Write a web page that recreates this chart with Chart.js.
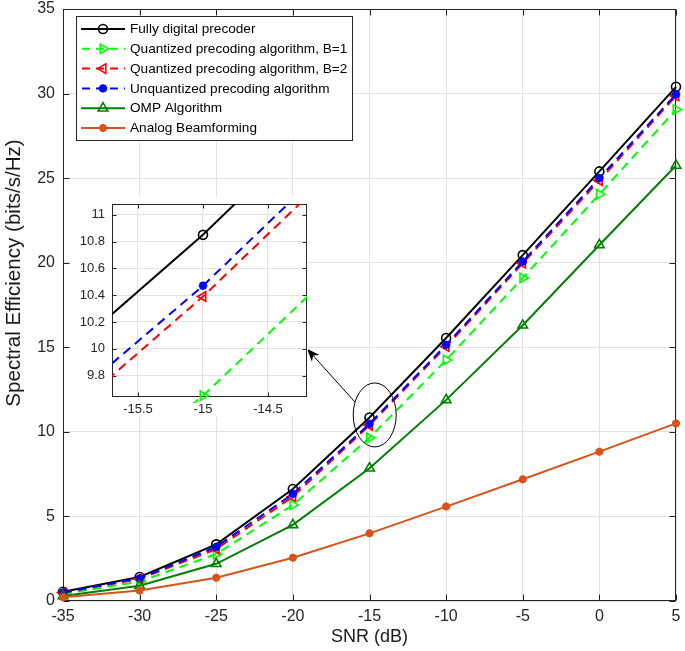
<!DOCTYPE html>
<html><head><meta charset="utf-8">
<script src="https://cdn.jsdelivr.net/npm/chart.js@4.4.0/dist/chart.umd.min.js"></script>
<style>
html,body{margin:0;padding:0;background:#fff;}
#wrap{position:relative;width:685px;height:651px;overflow:hidden;}
#main{position:absolute;left:0;top:0;}
#insetBox{position:absolute;left:70px;top:196px;width:238px;height:221px;background:#fff;}
#inset{position:absolute;left:0;top:0;}
</style></head><body>
<div id="wrap">
  <canvas id="main" width="685" height="651"></canvas>
  <div id="insetBox"><canvas id="inset" width="238" height="221"></canvas></div>
</div>
<script>
// ---------- data ----------
const snr = [-35, -30, -25, -20, -15, -10, -5, 0, 5];
const fullyDigital = [0.55, 1.42, 3.35, 6.62, 10.85, 15.55, 20.45, 25.40, 30.40];
const quantB1      = [0.42, 1.15, 2.78, 5.68, 9.65, 14.25, 19.10, 24.05, 29.05];
const quantB2      = [0.50, 1.30, 3.07, 6.17, 10.39, 15.04, 19.97, 24.86, 29.86];
const unquantized  = [0.50, 1.34, 3.20, 6.33, 10.47, 15.14, 20.07, 25.00, 29.96];
const ompAlg       = [0.30, 0.90, 2.20, 4.50, 7.85, 11.89, 16.30, 21.05, 25.75];
const analogBF     = [0.22, 0.62, 1.38, 2.56, 4.00, 5.58, 7.20, 8.83, 10.50];

const seriesNames = [
  'Fully digital precoder',
  'Quantized precoding algorithm, B=1',
  'Quantized precoding algorithm, B=2',
  'Unquantized precoding algorithm',
  'OMP Algorithm',
  'Analog Beamforming'
];
const seriesValues = [fullyDigital, quantB1, quantB2, unquantized, ompAlg, analogBF];

const xTickValues = [-35, -30, -25, -20, -15, -10, -5, 0, 5];
const yTickValues = [0, 5, 10, 15, 20, 25, 30, 35];
const insetXTicks = [-15.5, -15, -14.5];
const insetYTicks = [9.8, 10, 10.2, 10.4, 10.6, 10.8, 11];
const insetXRange = [-15.7, -14.2];
const insetYRange = [9.64, 11.08];
const zoomEllipseCenter = [-14.66, 11.0];
const arrowTargetY = 10;

// ---------- styles ----------
const styles = [
  {color:'#000000', dash:[], pointStyle:'circle', rotation:0, radius:4.5, fill:false},
  {color:'#00ff00', dash:[9,6], pointStyle:'triangle', rotation:90, radius:5.5, fill:false},
  {color:'#ff0000', dash:[9,6], pointStyle:'triangle', rotation:-90, radius:5.5, fill:false},
  {color:'#0000ff', dash:[9,6], pointStyle:'star', rotation:0, radius:4.2, fill:true},
  {color:'#008000', dash:[], pointStyle:'triangle', rotation:0, radius:5.5, fill:false},
  {color:'#d95319', dash:[], pointStyle:'star', rotation:0, radius:4.0, fill:true}
];
const FONT = '"Liberation Sans", Arial, Helvetica, sans-serif';
Chart.defaults.font.family = FONT;
Chart.defaults.color = '#262626';

function makeDatasets(clip){
  return seriesValues.map((vals, i) => {
    const s = styles[i];
    return {
      label: seriesNames[i],
      data: snr.map((x, k) => ({x: x, y: vals[k]})),
      borderColor: s.color,
      backgroundColor: s.fill ? s.color : 'rgba(0,0,0,0)',
      borderWidth: 2,
      borderDash: s.dash,
      pointStyle: s.pointStyle,
      pointRotation: s.rotation,
      pointRadius: s.radius,
      pointBorderWidth: s.fill ? 2.6 : 1.6,
      pointBorderColor: s.color,
      pointBackgroundColor: s.fill ? s.color : 'rgba(0,0,0,0)',
      tension: 0,
      fill: false,
      order: seriesValues.length - i,
      clip: clip
    };
  });
}

function zeroPad(sc){ sc.paddingTop = 0; sc.paddingBottom = 0; sc.paddingLeft = 0; sc.paddingRight = 0; }

// frame + inward ticks
const framePlugin = {
  id: 'frame',
  beforeDatasetsDraw(chart, args, opts){
    const {ctx, chartArea:a, scales} = chart;
    const L = opts.len || 5;
    ctx.save();
    ctx.strokeStyle = '#262626';
    ctx.lineWidth = 1;
    const l = Math.round(a.left) + 0.5, r = Math.round(a.right) - 0.5;
    const t = Math.round(a.top) + 0.5, b = Math.round(a.bottom) - 0.5;
    ctx.beginPath();
    scales.x.ticks.forEach(tk => {
      const x = Math.round(scales.x.getPixelForValue(tk.value)) + 0.5;
      ctx.moveTo(x, b); ctx.lineTo(x, b - L);
      ctx.moveTo(x, t); ctx.lineTo(x, t + L);
    });
    scales.y.ticks.forEach(tk => {
      const y = Math.round(scales.y.getPixelForValue(tk.value)) + 0.5;
      ctx.moveTo(l, y); ctx.lineTo(l + L, y);
      ctx.moveTo(r, y); ctx.lineTo(r - L, y);
    });
    ctx.stroke();
    ctx.strokeRect(l, t, r - l, b - t);
    ctx.restore();
  }
};

function drawMarker(ctx, s, x, y){
  ctx.save();
  ctx.strokeStyle = s.color;
  ctx.fillStyle = s.fill ? s.color : 'rgba(0,0,0,0)';
  ctx.lineWidth = s.fill ? 2.6 : 1.6;
  if (Chart.helpers && Chart.helpers.drawPoint) {
    Chart.helpers.drawPoint(ctx, {pointStyle: s.pointStyle, rotation: s.rotation, radius: s.radius, borderWidth: ctx.lineWidth}, x, y);
  } else {
    ctx.beginPath(); ctx.arc(x, y, s.radius, 0, Math.PI*2); ctx.stroke();
  }
  ctx.restore();
}

// legend box inside plot
const boxLegendPlugin = {
  id: 'boxLegend',
  afterDraw(chart){
    const ctx = chart.ctx;
    const bx = 76.5, by = 16.5, bw = 276, bh = 124;
    ctx.save();
    ctx.fillStyle = '#ffffff';
    ctx.fillRect(bx, by, bw, bh);
    ctx.strokeStyle = '#262626';
    ctx.lineWidth = 1;
    ctx.strokeRect(bx, by, bw, bh);
    ctx.font = '13.6px ' + FONT;
    ctx.textBaseline = 'middle';
    ctx.textAlign = 'left';
    seriesNames.forEach((name, i) => {
      const s = styles[i];
      const y = 29 + i * 19.8;
      ctx.save();
      ctx.strokeStyle = s.color;
      ctx.lineWidth = 2;
      ctx.setLineDash(s.dash.length ? [8, 6] : []);
      ctx.beginPath();
      if (s.dash.length) { ctx.moveTo(82, y); ctx.lineTo(125, y); }
      else { ctx.moveTo(81, y); ctx.lineTo(125, y); }
      ctx.stroke();
      ctx.restore();
      drawMarker(ctx, s, 103, y);
      ctx.fillStyle = '#000000';
      ctx.fillText(name, 130, y + 0.5);
    });
    ctx.restore();
  }
};

// y-axis title
const yTitlePlugin = {
  id: 'yTitle',
  afterDraw(chart){
    const ctx = chart.ctx;
    ctx.save();
    ctx.translate(14, 273);
    ctx.rotate(-Math.PI/2);
    ctx.font = '20.6px ' + FONT;
    ctx.fillStyle = '#1a1a1a';
    ctx.textAlign = 'center';
    ctx.textBaseline = 'middle';
    ctx.fillText('Spectral Efficiency (bits/s/Hz)', 0, 0);
    ctx.restore();
  }
};

let insetChart = null;
const insetLeft = 70, insetTop = 196;

// ellipse + arrow to inset
const calloutPlugin = {
  id: 'callout',
  afterDatasetsDraw(chart){
    const {ctx, scales} = chart;
    const cx = scales.x.getPixelForValue(zoomEllipseCenter[0]);
    const cy = scales.y.getPixelForValue(zoomEllipseCenter[1]);
    const rx = 21.5, ry = 32;
    ctx.save();
    ctx.strokeStyle = '#000000';
    ctx.lineWidth = 1;
    ctx.beginPath();
    ctx.ellipse(cx, cy, rx, ry, 0, 0, Math.PI*2);
    ctx.stroke();
    if (insetChart) {
      const ia = insetChart.chartArea;
      const hx = insetLeft + ia.right;
      const hy = insetTop + insetChart.scales.y.getPixelForValue(arrowTargetY);
      const ang = Math.atan2(-0.406, -0.925);
      const tx = cx + rx * Math.cos(ang), ty = cy + ry * Math.sin(ang);
      const dir = Math.atan2(hy - ty, hx - tx);
      const len = 13, wid = 5;
      ctx.beginPath();
      ctx.moveTo(tx, ty);
      ctx.lineTo(hx - Math.cos(dir) * 6, hy - Math.sin(dir) * 6);
      ctx.stroke();
      const bxp = hx - Math.cos(dir) * len, byp = hy - Math.sin(dir) * len;
      const nx = -Math.sin(dir), ny = Math.cos(dir);
      const mx = hx - Math.cos(dir) * len * 0.7, my = hy - Math.sin(dir) * len * 0.7;
      ctx.fillStyle = '#000000';
      ctx.beginPath();
      ctx.moveTo(hx, hy);
      ctx.lineTo(bxp + nx * wid, byp + ny * wid);
      ctx.lineTo(mx, my);
      ctx.lineTo(bxp - nx * wid, byp - ny * wid);
      ctx.closePath();
      ctx.fill();
    }
    ctx.restore();
  }
};

// ---------- inset chart ----------
insetChart = new Chart(document.getElementById('inset'), {
  type: 'line',
  data: { datasets: makeDatasets({left:0, top:0, right:0, bottom:6}) },
  options: {
    responsive: false,
    animation: false,
    events: [],
    layout: { autoPadding: false, padding: { top: 8, right: 1, left: 0, bottom: 0 } },
    plugins: { legend: {display:false}, tooltip: {enabled:false}, frame: {len: 4} },
    scales: {
      x: {
        type: 'linear', min: insetXRange[0], max: insetXRange[1],
        afterBuildTicks: sc => { sc.ticks = insetXTicks.map(v => ({value: v})); },
        afterFit: sc => { sc.height = 20; zeroPad(sc); },
        grid: { color: '#e3e3e3', drawTicks: false },
        border: { display: false },
        ticks: { padding: 5, font: { size: 13 }, color: '#262626', maxRotation: 0,
                 callback: v => String(Math.round(v * 10) / 10) }
      },
      y: {
        type: 'linear', min: insetYRange[0], max: insetYRange[1],
        afterBuildTicks: sc => { sc.ticks = insetYTicks.map(v => ({value: v})); },
        afterFit: sc => { sc.width = 42; zeroPad(sc); },
        grid: { color: '#e3e3e3', drawTicks: false },
        border: { display: false },
        ticks: { padding: 7, font: { size: 13 }, color: '#262626',
                 callback: v => String(Math.round(v * 10) / 10) }
      }
    }
  },
  plugins: [framePlugin]
});

// ---------- main chart ----------
new Chart(document.getElementById('main'), {
  type: 'line',
  data: { datasets: makeDatasets(false) },
  options: {
    responsive: false,
    animation: false,
    events: [],
    layout: { autoPadding: false, padding: { top: 9, right: 9, left: 0, bottom: 0 } },
    plugins: { legend: {display:false}, tooltip: {enabled:false}, frame: {len: 6} },
    scales: {
      x: {
        type: 'linear', min: xTickValues[0], max: xTickValues[xTickValues.length-1],
        afterBuildTicks: sc => { sc.ticks = xTickValues.map(v => ({value: v})); },
        afterFit: sc => { sc.height = 50; zeroPad(sc); },
        grid: { color: '#e3e3e3', drawTicks: false },
        border: { display: false },
        ticks: { padding: 6, font: { size: 16 }, color: '#262626', maxRotation: 0 },
        title: { display: true, text: 'SNR (dB)', font: { size: 18 }, color: '#1a1a1a', padding: { top: 0, bottom: 3 } }
      },
      y: {
        type: 'linear', min: yTickValues[0], max: yTickValues[yTickValues.length-1],
        afterBuildTicks: sc => { sc.ticks = yTickValues.map(v => ({value: v})); },
        afterFit: sc => { sc.width = 63; zeroPad(sc); },
        grid: { color: '#e3e3e3', drawTicks: false },
        border: { display: false },
        ticks: { padding: 8, font: { size: 16 }, color: '#262626' }
      }
    }
  },
  plugins: [framePlugin, calloutPlugin, boxLegendPlugin, yTitlePlugin]
});
</script>
</body></html>
